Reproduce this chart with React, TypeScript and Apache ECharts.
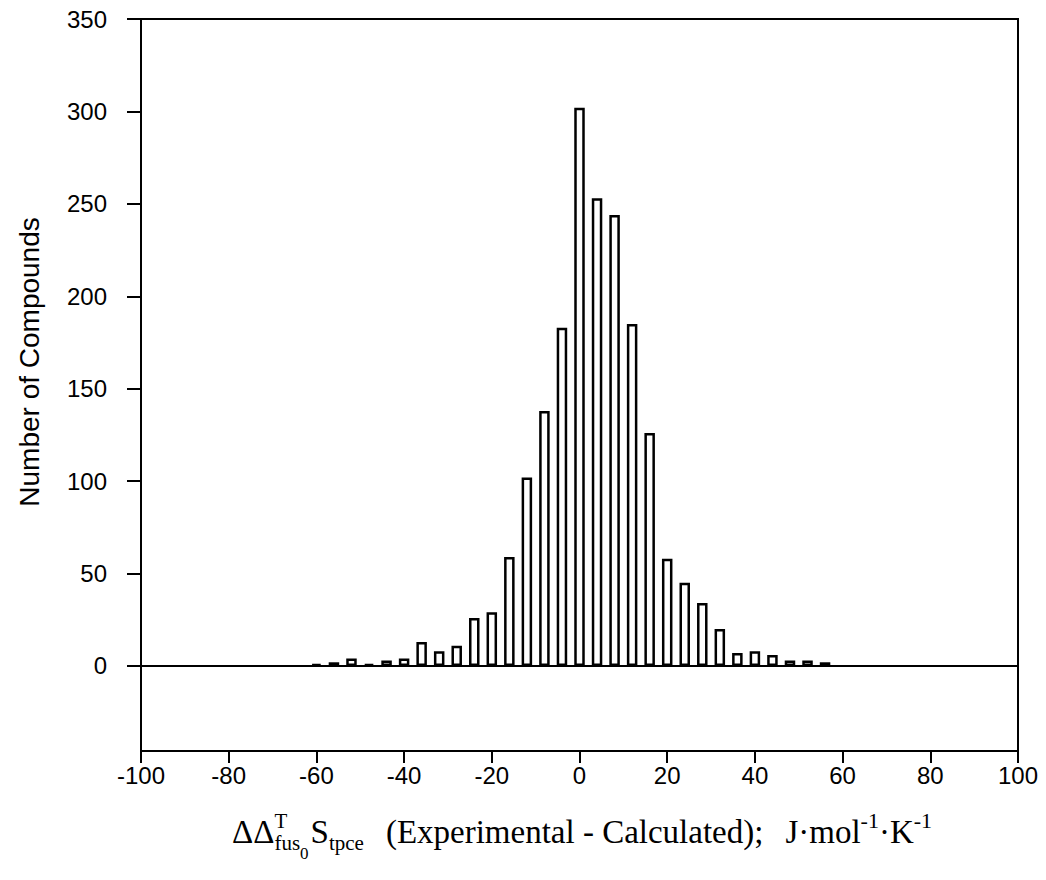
import React, { useEffect, useRef } from "react";
import * as echarts from "echarts";

const binCenters = [-60, -56, -52, -48, -44, -40, -36, -32, -28, -24, -20, -16, -12, -8, -4, 0, 4, 8, 12, 16, 20, 24, 28, 32, 36, 40, 44, 48, 52, 56];
const counts = [1, 2, 4, 1, 3, 4, 13, 8, 11, 26, 29, 59, 102, 138, 183, 302, 253, 244, 185, 126, 58, 45, 34, 20, 7, 8, 6, 3, 3, 2];
const yTickValues = [0, 50, 100, 150, 200, 250, 300, 350];
const yAxisName = "Number of Compounds";

type Seg = { t: string; s: number; dy: number; adv: boolean; gap?: number };
const titleSegs: Seg[] = [
  { t: "ΔΔ", s: 33, dy: 0, adv: true },
  { t: "T", s: 21, dy: -15, adv: false },
  { t: "fus", s: 21, dy: 7, adv: true },
  { t: "0", s: 17, dy: 16, adv: true, gap: 2 },
  { t: "S", s: 33, dy: 0, adv: true },
  { t: "tpce", s: 21, dy: 7, adv: true, gap: 22 },
  { t: "(Experimental - Calculated);", s: 33, dy: 0, adv: true, gap: 22 },
  { t: "J·mol", s: 33, dy: 0, adv: true },
  { t: "-1", s: 22, dy: -15, adv: true },
  { t: "·K", s: 33, dy: 0, adv: true },
  { t: "-1", s: 22, dy: -15, adv: true },
];

const SERIF = '"Liberation Serif", "Times New Roman", serif';
const SANS = '"Liberation Sans", Arial, Helvetica, sans-serif';

function buildTitle(cx: number, baseline: number) {
  const ctx = document.createElement("canvas").getContext("2d")!;
  const widths = titleSegs.map((sg) => {
    ctx.font = `${sg.s}px ${SERIF}`;
    return ctx.measureText(sg.t).width;
  });
  let total = 0;
  titleSegs.forEach((sg, i) => {
    if (sg.adv) total += widths[i];
    if (sg.gap) total += sg.gap;
  });
  let x = cx - total / 2;
  const els: any[] = [];
  titleSegs.forEach((sg, i) => {
    els.push({
      type: "text",
      x,
      y: baseline + sg.dy - 0.33 * sg.s,
      style: {
        text: sg.t,
        font: `${sg.s}px ${SERIF}`,
        fill: "#000",
        align: "left",
        verticalAlign: "middle",
      },
    });
    if (sg.adv) x += widths[i];
    if (sg.gap) x += sg.gap;
  });
  return els;
}

export default function App() {
  const ref = useRef<HTMLDivElement>(null);
  useEffect(() => {
    document.body.style.margin = "0";
    const chart = echarts.init(ref.current!, null, { renderer: "svg" });
    const option: any = {
      animation: false,
      backgroundColor: "#fff",
      grid: {
        left: 141,
        top: 19,
        right: 28,
        bottom: 129,
        show: true,
        borderColor: "#000",
        borderWidth: 2,
        backgroundColor: "transparent",
      },
      xAxis: {
        type: "value",
        min: -100,
        max: 100,
        interval: 20,
        axisLine: { show: true, onZero: false, lineStyle: { color: "#000", width: 2 } },
        axisTick: { show: true, inside: false, length: 12, lineStyle: { color: "#000", width: 2 } },
        axisLabel: { color: "#000", fontSize: 24, fontFamily: SANS, margin: 12 },
        splitLine: { show: false },
      },
      yAxis: {
        type: "value",
        min: -46,
        max: 350,
        axisLine: { show: true, onZero: false, lineStyle: { color: "#000", width: 2 } },
        axisTick: {
          show: true,
          inside: false,
          length: 14,
          customValues: yTickValues,
          lineStyle: { color: "#000", width: 2 },
        },
        axisLabel: {
          color: "#000",
          fontSize: 24,
          fontFamily: SANS,
          margin: 34,
          customValues: yTickValues,
        },
        splitLine: { show: false },
      },
      series: [
        {
          type: "bar",
          data: binCenters.map((c, i) => [c, counts[i]]),
          barWidth: 10.5,
          itemStyle: { color: "#fff", borderColor: "#000", borderWidth: 2.5 },
          markLine: {
            silent: true,
            symbol: ["none", "none"],
            label: { show: false },
            lineStyle: { color: "#000", width: 2, type: "solid" },
            data: [{ yAxis: 0 }],
          },
        },
      ],
      graphic: [
        {
          type: "text",
          x: 29,
          y: 362,
          rotation: Math.PI / 2,
          style: {
            text: yAxisName,
            font: `28px ${SANS}`,
            fill: "#000",
            align: "center",
            verticalAlign: "middle",
          },
        },
        ...buildTitle(582, 843),
      ],
    };
    chart.setOption(option);
    return () => chart.dispose();
  }, []);
  return <div ref={ref} style={{ width: 1046, height: 880 }} />;
}
